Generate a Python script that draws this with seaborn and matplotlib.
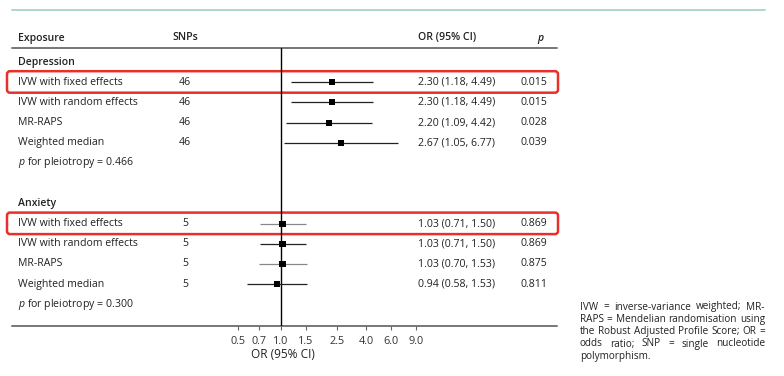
import numpy as np
import pandas as pd
import matplotlib
matplotlib.use('Agg')
import matplotlib.pyplot as plt
from matplotlib.patches import FancyBboxPatch
from matplotlib.ticker import FixedLocator, FixedFormatter
import seaborn as sns

sns.set_theme(style='white')
plt.rcParams['font.family'] = ['Open Sans', 'DejaVu Sans']
plt.rcParams['mathtext.fontset'] = 'custom'
plt.rcParams['mathtext.rm'] = 'Open Sans'
plt.rcParams['mathtext.it'] = 'Open Sans:italic'

# data
methods = ['IVW with fixed effects', 'IVW with random effects', 'MR-RAPS', 'Weighted median']
dep_snps = [46, 46, 46, 46]
dep_or = [2.30, 2.30, 2.20, 2.67]
dep_lo = [1.18, 1.18, 1.09, 1.05]
dep_hi = [4.49, 4.49, 4.42, 6.77]
dep_p = ['0.015', '0.015', '0.028', '0.039']
dep_pleio = '0.466'

anx_snps = [5, 5, 5, 5]
anx_or = [1.03, 1.03, 1.03, 0.94]
anx_lo = [0.71, 0.71, 0.70, 0.58]
anx_hi = [1.50, 1.50, 1.53, 1.53]
anx_p = ['0.869', '0.869', '0.875', '0.811']
anx_pleio = '0.300'

xticks = [0.5, 0.7, 1.0, 1.5, 2.5, 4.0, 6.0, 9.0]
footnote = ['IVW = inverse-variance weighted; MR-',
            'RAPS = Mendelian randomisation using',
            'the Robust Adjusted Profile Score; OR =',
            'odds ratio; SNP = single nucleotide',
            'polymorphism.']

# layout in pixels; table rows at y = Y0 + STEP*row
W, H = 784, 376
Y0, STEP = 62, 20.2
def ypix(row):
    return Y0 + STEP * row

groups = [('Depression', 0, dep_snps, dep_or, dep_lo, dep_hi, dep_p, dep_pleio),
          ('Anxiety', 7, anx_snps, anx_or, anx_lo, anx_hi, anx_p, anx_pleio)]

rows = []
for name, start, snps, orv, lo, hi, p, pl in groups:
    for i in range(len(methods)):
        rows.append({'group': name, 'row': start + 1 + i, 'method': methods[i], 'snps': snps[i],
                     'or': orv[i], 'lo': lo[i], 'hi': hi[i], 'p': p[i]})
df = pd.DataFrame(rows)

fig = plt.figure(figsize=(W / 100, H / 100), dpi=100)
tab = fig.add_axes([0, 0, 1, 1])
tab.set_xlim(0, W)
tab.set_ylim(H, 0)
tab.axis('off')

# forest axes, log scale from 0.5 to 9.0
fx0, fx1 = 238, 416
fy0, fy1 = 48, 326
ax = fig.add_axes([fx0 / W, 1 - fy1 / H, (fx1 - fx0) / W, (fy1 - fy0) / H])
ax.patch.set_alpha(0)
ax.set_xscale('log')
ax.set_xlim(xticks[0], xticks[-1])
ax.set_ylim((fy1 - Y0) / STEP, (fy0 - Y0) / STEP)

ci_colors = ['#222222'] * 4 + ['#888888', '#222222', '#888888', '#222222']
ax.hlines(df['row'], df['lo'], df['hi'], colors=ci_colors, lw=0.9, zorder=2)
sns.scatterplot(data=df, x='or', y='row', marker='s', color='black', s=19,
                edgecolor='none', ax=ax, legend=False, zorder=3)
ax.axvline(1.0, color='black', lw=1.0, zorder=1)

ax.xaxis.set_major_locator(FixedLocator(xticks))
ax.xaxis.set_major_formatter(FixedFormatter(['%.1f' % t for t in xticks]))
ax.xaxis.set_minor_locator(FixedLocator([]))
ax.tick_params(axis='x', bottom=True, direction='out', length=3, width=0.8, color='#666666',
               labelsize=7.8, labelcolor='#333333', pad=4)
ax.tick_params(axis='y', left=False, labelleft=False)
for s in ax.spines.values():
    s.set_visible(False)
ax.set_xlabel('')
ax.set_ylabel('')

txt = dict(fontsize=7.6, color='#222222', va='center')

# rules
tab.plot([12, 765], [10, 10], color='#9fd0c2', lw=1.2)
tab.plot([12, 557], [48, 48], color='#777777', lw=1.4)
tab.plot([12, 557], [326, 326], color='#777777', lw=1.4)

# header
tab.text(18, 38, 'Exposure', fontweight='semibold', **txt)
tab.text(172, 38, 'SNPs', fontweight='semibold', **txt)
tab.text(418, 38, 'OR (95% CI)', fontweight='semibold', **txt)
tab.text(537, 38, 'p', fontstyle='italic', fontweight='semibold', **txt)

for name, start, snps, orv, lo, hi, p, pl in groups:
    tab.text(18, ypix(start), name, fontweight='semibold', **txt)
    tab.text(18, ypix(start + 5), r'$\it{p}$ for pleiotropy = ' + pl, **txt)
    # highlight box around the first row
    tab.add_patch(FancyBboxPatch((7, ypix(start + 1) - 11), 551, 21.5,
                                 boxstyle='round,pad=0,rounding_size=3',
                                 fc='none', ec='#e8302a', lw=1.8, zorder=5))

for _, r in df.iterrows():
    y = ypix(r['row'])
    tab.text(18, y, r['method'], **txt)
    tab.text(185, y, str(r['snps']), ha='center', **txt)
    tab.text(418, y, '%.2f (%.2f, %.2f)' % (r['or'], r['lo'], r['hi']), **txt)
    tab.text(521, y, r['p'], **txt)

tab.text(283, 354, 'OR (95% CI)', ha='center', fontsize=8.6, color='#222222', va='center')

# justified footnote block
renderer = fig.canvas.get_renderer()
fx_left, fx_right = 580, 765
fy = [307, 319.5, 331.5, 344, 356]
fn = dict(fontsize=7.2, color='#222222', va='center')
for k, (line, y) in enumerate(zip(footnote, fy)):
    words = line.split(' ')
    if k == len(footnote) - 1:
        tab.text(fx_left, y, line, **fn)
        continue
    arts = [tab.text(0, y, w, **fn) for w in words]
    widths = [a.get_window_extent(renderer).width for a in arts]
    gap = max((fx_right - fx_left - sum(widths)) / (len(words) - 1), 1.5)
    x = fx_left
    for a, w in zip(arts, widths):
        a.set_x(x)
        x += w + gap

fig.savefig('out.png', dpi=100)
